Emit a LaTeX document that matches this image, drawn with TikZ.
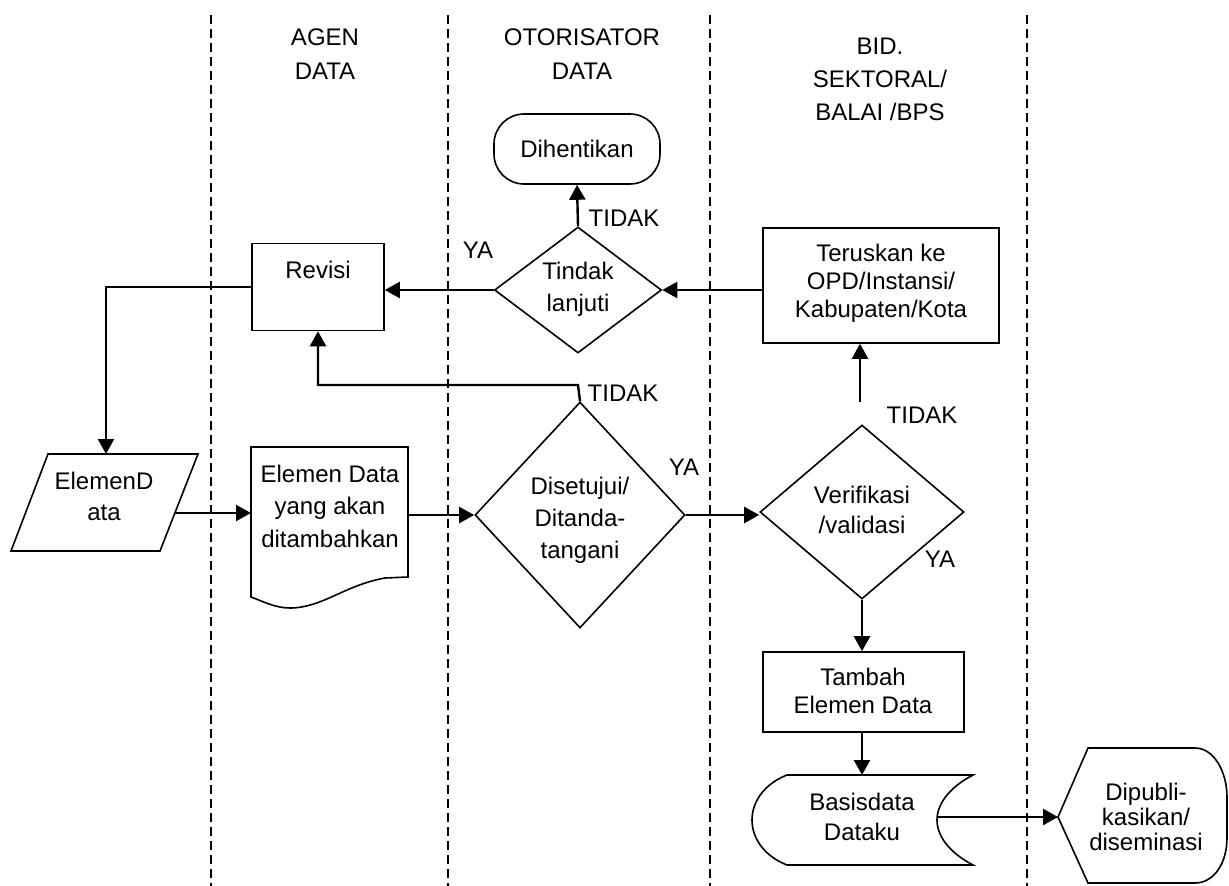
\documentclass[tikz,border=0pt]{standalone}
\usepackage{fontspec}
\setmainfont{Liberation Sans}
\usetikzlibrary{shapes.geometric,arrows.meta}
\begin{document}
\begin{tikzpicture}[x=1pt,y=-1pt,
  shp/.style={draw, line width=1.6pt},
  conn/.style={line width=2.4pt},
  arr/.style={conn, -{Triangle[length=15pt,width=16pt]}},
  lane/.style={line width=1.8pt, dash pattern=on 9pt off 5pt},
  txt/.style={align=center, inner sep=0pt},
  fa/.style={font=\fontsize{24}{32}\selectfont},
  fb/.style={font=\fontsize{24}{30}\selectfont},
  fc/.style={font=\fontsize{24}{28}\selectfont},
  fd/.style={font=\fontsize{24}{25}\selectfont},
  fh/.style={font=\fontsize{24}{34}\selectfont},
  lbl/.style={font=\fontsize{24}{28}\selectfont, inner sep=0pt},
  dia/.style={shp, diamond, inner sep=0pt},
  box/.style={shp, rectangle, inner sep=0pt},
]
\useasboundingbox (0,0) rectangle (1229,886);

% swimlane separators
\foreach \x in {211,448,710,1027} \draw[lane] (\x,15) -- (\x,886);

% headers
\node[txt, fh] (hA) at (325,54) {AGEN\\DATA};
\node[txt, fh] (hB) at (582,54) {OTORISATOR\\DATA};
\node[txt, font=\fontsize{24}{33}\selectfont] (hC) at (880,79) {BID.\\SEKTORAL/\\BALAI /BPS};

% nodes
\node[box, rounded corners=30pt, minimum width=166pt, minimum height=70pt, fa] (dih) at (577,149) {Dihentikan};

\node[dia, minimum width=167pt, minimum height=126pt] (tin) at (578,290) {};
\node[txt, fa] (tinT) at (578,289) {Tindak\\lanjuti};

\node[box, minimum width=132pt, minimum height=87pt] (rev) at (318,287) {};
\node[txt, fa] (revT) at (318,270) {Revisi};

\node[box, minimum width=236pt, minimum height=115pt] (ter) at (881,285.5) {};
\node[txt, fc] (terT) at (881,283) {Teruskan ke\\OPD/Instansi/\\Kabupaten/Kota};

\node[dia, minimum width=210pt, minimum height=226pt] (dis) at (580,515) {};
\node[txt, fa] (disT) at (580,520) {Disetujui/\\Ditanda-\\tangani};

\node[dia, minimum width=204pt, minimum height=174pt] (ver) at (862,512) {};
\node[txt, fb] (verT) at (862,510) {Verifikasi\\/validasi};

\node[box, minimum width=201pt, minimum height=80pt] (tam) at (863.5,692) {};
\node[txt, fc] (tamT) at (863,691) {Tambah\\Elemen Data};

% ElemenData parallelogram
\draw[shp] (48,454) -- (198,454) -- (160,551) -- (11,551) -- cycle;
\coordinate (edN) at (106,454);
\coordinate (edE) at (175,513);
\node[txt, font=\fontsize{24}{31}\selectfont] (edT) at (104,496) {ElemenD\\ata};

% document shape
\draw[shp] (251,447) -- (408,447) -- (408,577) -- (385,578)
  .. controls (345,585) and (322,608) .. (290,608)
  .. controls (275,608) and (262,601) .. (251,597) -- cycle;
\coordinate (docW) at (251,513);
\coordinate (docE) at (408,515);
\node[txt, font=\fontsize{24}{32.5}\selectfont] (docT) at (330,506) {Elemen Data\\yang akan\\ditambahkan};

% stored data shape
\draw[shp] (787,775) -- (973,775)
  .. controls (948,788) and (937,805) .. (937,820)
  .. controls (937,835) and (948,852) .. (973,865)
  -- (787,865)
  .. controls (764,856) and (752,838) .. (752,820)
  .. controls (752,802) and (764,784) .. (787,775) -- cycle;
\coordinate (bdN) at (862,775);
\coordinate (bdE) at (937,817);
\node[txt, fb] (bdT) at (862,817) {Basisdata\\Dataku};

% display shape
\draw[shp] (1058,817) -- (1088,748) -- (1195,748)
  .. controls (1214,748) and (1227,772) .. (1227,797) -- (1227,838)
  .. controls (1227,863) and (1214,883) .. (1195,883)
  -- (1088,883) -- cycle;
\coordinate (dpW) at (1058,817);
\node[txt, fd] (dpT) at (1146,817) {Dipubli-\\kasikan/\\diseminasi};

% connectors
\draw[arr] (rev.west) -| (edN);
\draw[arr] (edE) -- (docW);
\draw[arr] (docE) -- (dis.west);
\draw[arr] (dis.east) -- (dis.east -| ver.west);
\draw[arr] (ver.south) -- (tam.north -| ver.south);
\draw[arr] (tam.south -| bdN) -- (bdN);
\draw[arr] (bdE) -- (dpW);
\coordinate (vUp) at (860,402);
\draw[arr] (vUp) -- (vUp |- ter.south);
\draw[arr] (ter.west |- tin.east) -- (tin.east);
\draw[arr] (tin.west) -- (tin.west -| rev.east);
\draw[arr] (tin.north) -- (dih.south);
\coordinate (dUp) at (578,385);
\draw[arr] (dis.north) -- (dUp) -| (rev.south);

% labels
\node[lbl] (l1) at (624,218) {TIDAK};
\node[lbl] (l2) at (478,250) {YA};
\node[lbl] (l3) at (623,393) {TIDAK};
\node[lbl] (l4) at (684,467) {YA};
\node[lbl] (l5) at (922,415) {TIDAK};
\node[lbl] (l6) at (940,559) {YA};
\end{tikzpicture}
\end{document}
